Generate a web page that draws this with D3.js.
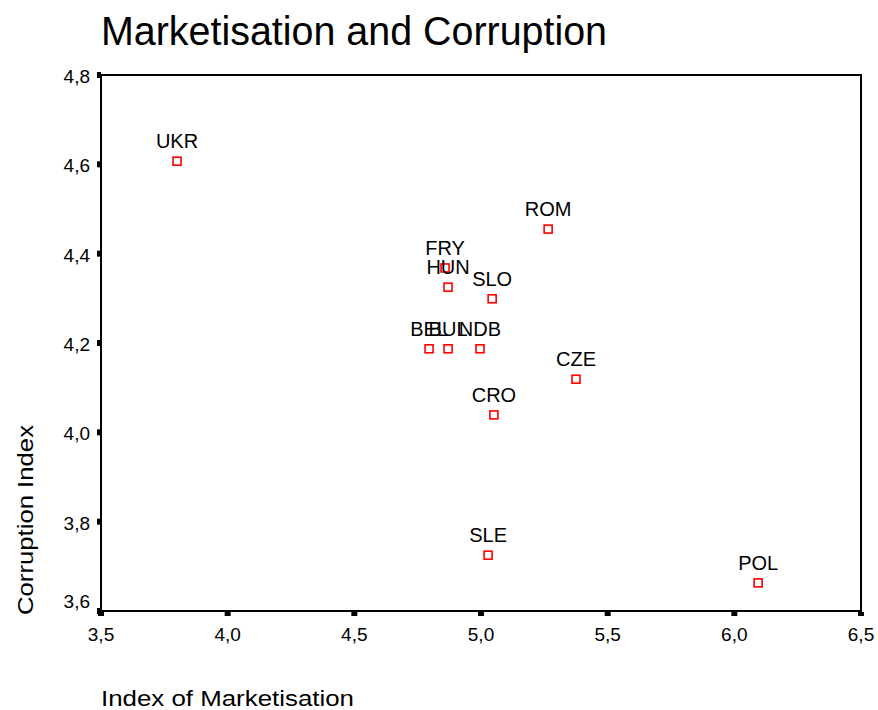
<!DOCTYPE html>
<html>
<head>
<meta charset="utf-8">
<script src="https://cdn.jsdelivr.net/npm/d3@7"></script>
<style>
  body { margin: 0; background: #fff; }
  text { font-family: "Liberation Sans", Arial, sans-serif; fill: #000; }
</style>
</head>
<body>
<svg id="chart" width="878" height="710"></svg>
<script>
const countries = ["UKR", "ROM", "FRY", "HUN", "SLO", "BEL", "BUL", "NDB", "CZE", "CRO", "SLE", "POL"];
const marketisation = [3.80, 5.265, 4.858, 4.87, 5.044, 4.795, 4.87, 4.996, 5.375, 5.051, 5.028, 6.094];
const corruption = [4.607, 4.455, 4.368, 4.325, 4.299, 4.187, 4.187, 4.187, 4.119, 4.039, 3.725, 3.663];
const xTicks = [3.5, 4.0, 4.5, 5.0, 5.5, 6.0, 6.5];
const yTicks = [3.6, 3.8, 4.0, 4.2, 4.4, 4.6, 4.8];

const svg = d3.select("#chart");
const plotLeft = 101, plotRight = 861, plotTop = 75, plotBottom = 611;

const x = d3.scaleLinear().domain([3.5, 6.5]).range([plotLeft, plotRight]);
const y = d3.scaleLinear().domain([3.6, 4.8]).range([plotBottom, plotTop]);
const fmt = d => d3.format(".1f")(d).replace(".", ",");

// title
svg.append("text")
    .attr("x", plotLeft)
    .attr("y", 45)
    .attr("textLength", 506)
    .attr("lengthAdjust", "spacingAndGlyphs")
    .style("font-size", "40px")
    .text("Marketisation and Corruption");

// frame
svg.append("rect")
    .attr("x", plotLeft)
    .attr("y", plotTop)
    .attr("width", plotRight - plotLeft)
    .attr("height", plotBottom - plotTop)
    .attr("fill", "none")
    .attr("stroke", "#000")
    .attr("stroke-width", 2);

// x ticks
svg.selectAll(".xtick")
    .data(xTicks)
    .enter()
    .append("rect")
    .attr("x", d => x(d) - 3)
    .attr("y", plotBottom + 1)
    .attr("width", 6)
    .attr("height", 4)
    .attr("fill", "#000");

svg.selectAll(".xlab")
    .data(xTicks)
    .enter()
    .append("text")
    .attr("x", d => x(d))
    .attr("y", plotBottom + 30)
    .attr("text-anchor", "middle")
    .style("font-size", "19px")
    .text(fmt);

// y ticks
svg.selectAll(".ytick")
    .data(yTicks)
    .enter()
    .append("rect")
    .attr("x", plotLeft - 4)
    .attr("y", d => y(d) - 3)
    .attr("width", 4)
    .attr("height", 6)
    .attr("fill", "#000");

svg.selectAll(".ylab")
    .data(yTicks)
    .enter()
    .append("text")
    .attr("x", plotLeft - 11)
    .attr("y", d => (d === 3.6 ? y(d) - 11 : y(d)) + 8)
    .attr("text-anchor", "end")
    .style("font-size", "19px")
    .text(fmt);

// axis titles
svg.append("text")
    .attr("transform", "translate(33,520) rotate(-90)")
    .attr("text-anchor", "middle")
    .attr("textLength", 190)
    .attr("lengthAdjust", "spacingAndGlyphs")
    .style("font-size", "22px")
    .text("Corruption Index");

svg.append("text")
    .attr("x", plotLeft)
    .attr("y", 706)
    .attr("textLength", 253)
    .attr("lengthAdjust", "spacingAndGlyphs")
    .style("font-size", "22px")
    .text("Index of Marketisation");

// points
const points = countries.map((c, i) => ({ name: c, mx: marketisation[i], cy: corruption[i] }));

svg.selectAll(".pt")
    .data(points)
    .enter()
    .append("rect")
    .attr("x", d => x(d.mx) - 4)
    .attr("y", d => y(d.cy) - 4)
    .attr("width", 8)
    .attr("height", 8)
    .attr("fill", "none")
    .attr("stroke", "#ff0000")
    .attr("stroke-width", 1.6);

svg.selectAll(".plab")
    .data(points)
    .enter()
    .append("text")
    .attr("x", d => x(d.mx))
    .attr("y", d => y(d.cy) - 13)
    .attr("text-anchor", "middle")
    .style("font-size", "20px")
    .text(d => d.name);
</script>
</body>
</html>
